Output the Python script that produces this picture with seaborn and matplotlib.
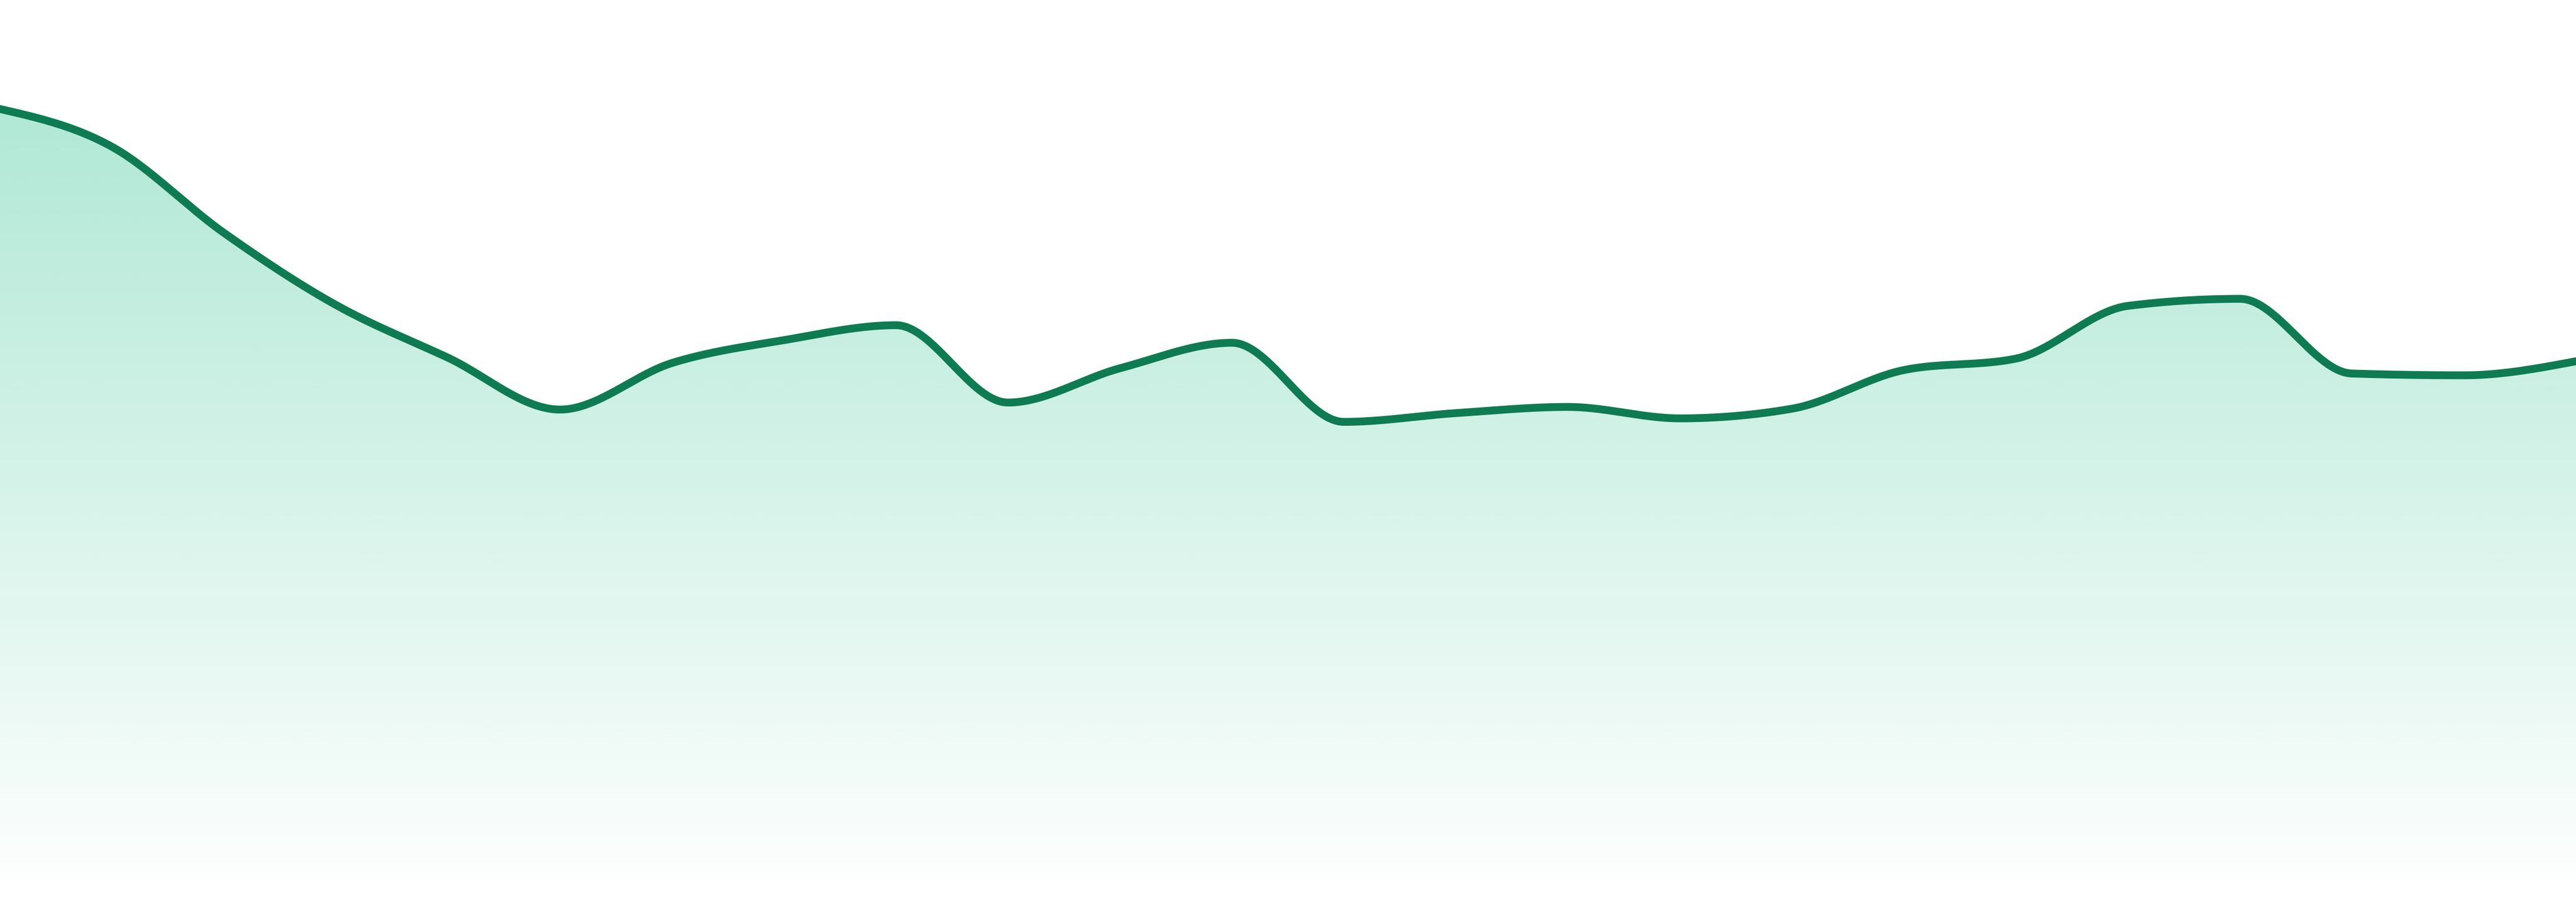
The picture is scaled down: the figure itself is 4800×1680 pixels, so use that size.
"""
Área suavizada con degradado verde (sin ejes), 4800x1680 px.
"""
import numpy as np
import pandas as pd
import matplotlib
matplotlib.use("Agg")
import matplotlib.pyplot as plt
import seaborn as sns
from matplotlib.colors import to_rgb

# ───────────────────────────────────────────────────────────────
# Datos (escala 0–100)
# ───────────────────────────────────────────────────────────────
valores = [87.6, 83.3, 73.5, 65.3, 59.3, 53.4, 58.7, 61.3,
           63.0, 54.2, 58.1, 61.0, 52.0, 53.0, 53.7, 52.4,
           53.5, 57.9, 59.2, 65.2, 66.0, 57.5, 57.3, 58.9]
puntos = np.arange(len(valores))

LINEA   = "#0f7b52"
RELLENO = "#10b981"


def curva_monotona(x, y, n=60):
    """Curva monótona en X (mismas tangentes que d3.curveMonotoneX)."""
    x = np.asarray(x, float); y = np.asarray(y, float)
    h = np.diff(x); s = np.diff(y) / h
    t = np.zeros_like(y)
    for i in range(1, len(y) - 1):
        h0, h1, s0, s1 = h[i-1], h[i], s[i-1], s[i]
        p = (s0 * h1 + s1 * h0) / (h0 + h1)
        t[i] = (np.sign(s0) + np.sign(s1)) * min(abs(s0), abs(s1), 0.5 * abs(p))
    t[0]  = (3 * s[0] - t[1]) / 2
    t[-1] = (3 * s[-1] - t[-2]) / 2
    xs, ys = [], []
    for i in range(len(h)):
        u = np.linspace(0, 1, n, endpoint=(i == len(h) - 1))
        h00 = 2*u**3 - 3*u**2 + 1; h10 = u**3 - 2*u**2 + u
        h01 = -2*u**3 + 3*u**2;    h11 = u**3 - u**2
        xs.append(x[i] + u * h[i])
        ys.append(h00*y[i] + h10*h[i]*t[i] + h01*y[i+1] + h11*h[i]*t[i+1])
    return np.concatenate(xs), np.concatenate(ys)


cx, cy = curva_monotona(puntos, valores)
df = pd.DataFrame({"x": cx, "y": cy})

# ───────────────────────────────────────────────────────────────
sns.set_theme(style="white")
fig = plt.figure(figsize=(16, 5.6), dpi=300)
ax = fig.add_axes([0, 43/1680, 1, 1637/1680])
ax.set_xlim(puntos[0], puntos[-1])
ax.set_ylim(0, 100)
ax.axis("off")

# Degradado vertical recortado al área bajo la curva
poly = ax.fill_between(df["x"], df["y"], 0, facecolor="none", edgecolor="none")
r, g, b = to_rgb(RELLENO)
alpha = np.linspace(0.33, 0.01, 256)
img = np.zeros((256, 1, 4))
img[..., 0], img[..., 1], img[..., 2] = r, g, b
img[:, 0, 3] = alpha
im = ax.imshow(img, extent=[puntos[0], puntos[-1], 0, max(valores)],
               aspect="auto", origin="upper", interpolation="bilinear", zorder=1)
im.set_clip_path(poly.get_paths()[0], transform=ax.transData)

sns.lineplot(data=df, x="x", y="y", ax=ax, color=LINEA, linewidth=3.5,
             estimator=None, sort=False, zorder=3)

fig.savefig("out.png", dpi=300, facecolor="white")
